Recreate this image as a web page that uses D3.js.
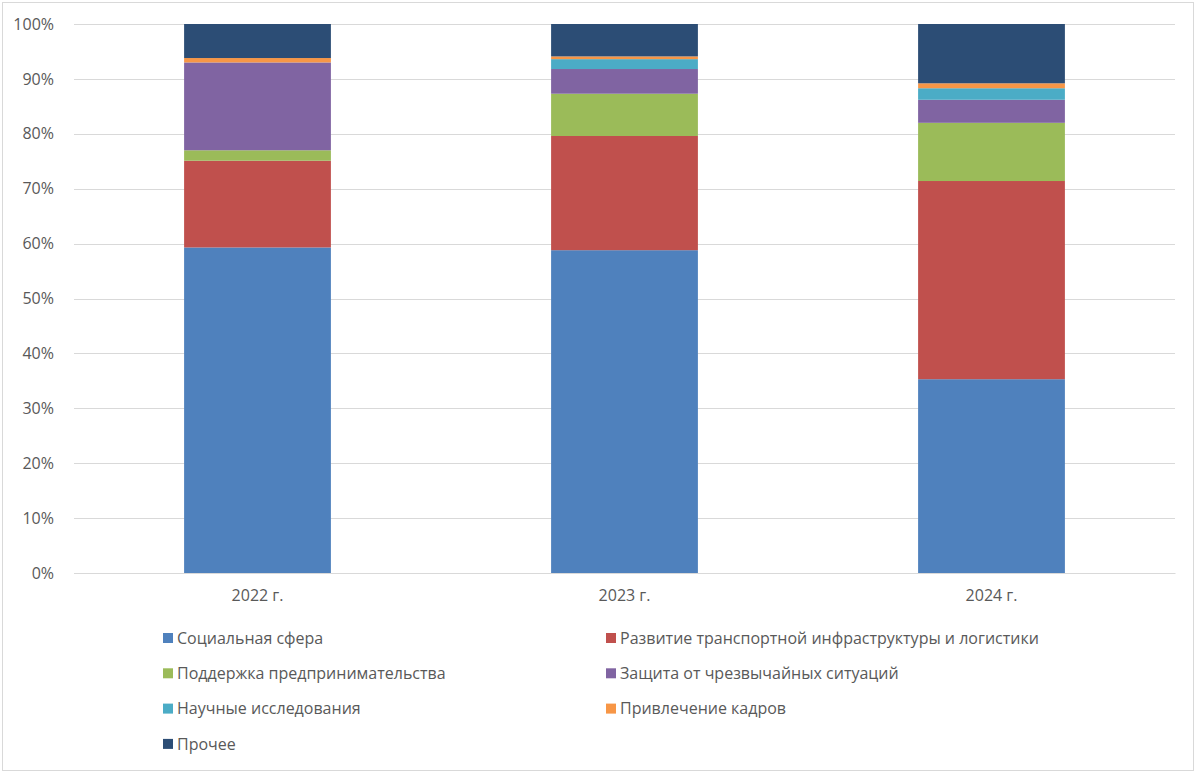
<!DOCTYPE html>
<html lang="ru">
<head>
<meta charset="utf-8">
<title>Структура расходов</title>
<script src="https://d3js.org/d3.v7.min.js"></script>
<style>
  body { margin: 0; background: #fff; }
  text { font-family: "Open Sans", sans-serif; fill: #595959; }
</style>
</head>
<body>
<div id="chart"></div>
<script>
// data, percent shares per year
var years = ['2022 г.', '2023 г.', '2024 г.'];
var seriesNames = ['Социальная сфера', 'Развитие транспортной инфраструктуры и логистики',
  'Поддержка предпринимательства', 'Защита от чрезвычайных ситуаций',
  'Научные исследования', 'Привлечение кадров', 'Прочее'];
var social    = [59.3, 58.8, 35.3];
var transport = [15.8, 20.8, 36.1];
var business  = [1.9, 7.7, 10.6];
var emergency = [16.0, 4.5, 4.2];
var science   = [0.0, 1.8, 2.1];
var staff     = [0.8, 0.5, 0.9];
var other     = [6.2, 5.9, 10.8];
var yTicks = [0, 10, 20, 30, 40, 50, 60, 70, 80, 90, 100];

var colors = ['#4F81BD', '#C0504D', '#9BBB59', '#8064A2', '#4BACC6', '#F79646', '#2C4D75'];
var allSeries = [social, transport, business, emergency, science, staff, other];

var W = 1197, H = 774;
var plot = {left: 74, right: 1175, top: 24, bottom: 573};

var svg = d3.select('#chart').append('svg')
  .attr('width', W).attr('height', H);

svg.append('rect')
  .attr('x', 2.5).attr('y', 2.5)
  .attr('width', W - 6).attr('height', H - 6)
  .attr('fill', '#fff').attr('stroke', '#d9d9d9');

var x = d3.scaleBand().domain(years)
  .range([plot.left, plot.right]).paddingInner(0.6).paddingOuter(0.3);
var y = d3.scaleLinear().domain([0, 100]).range([plot.bottom, plot.top]);

// gridlines
svg.append('g').selectAll('line')
  .data(yTicks).enter().append('line')
  .attr('x1', plot.left).attr('x2', plot.right)
  .attr('y1', d => Math.round(y(d)) + 0.5).attr('y2', d => Math.round(y(d)) + 0.5)
  .attr('stroke', '#d9d9d9').attr('stroke-width', 1);

// stacked bars
var table = years.map(function (yr, i) {
  var row = {year: yr};
  seriesNames.forEach(function (s, j) { row[s] = allSeries[j][i]; });
  return row;
});
var stack = d3.stack().keys(seriesNames)(table);

svg.append('g').selectAll('g')
  .data(stack).enter().append('g')
  .attr('fill', (d, i) => colors[i])
  .selectAll('rect')
  .data(d => d).enter().append('rect')
  .attr('x', d => x(d.data.year))
  .attr('width', x.bandwidth())
  .attr('y', d => y(d[1]))
  .attr('height', d => y(d[0]) - y(d[1]));

// axes
var yAxis = svg.append('g')
  .attr('transform', 'translate(' + (plot.left - 17) + ',0)')
  .call(d3.axisLeft(y).tickValues(yTicks).tickSize(0).tickFormat(d => d + '%'));
yAxis.select('.domain').remove();
yAxis.selectAll('text').attr('font-size', 16).attr('fill', '#595959')
  .attr('font-family', '"Open Sans", sans-serif');

var xAxis = svg.append('g')
  .attr('transform', 'translate(0,' + plot.bottom + ')')
  .call(d3.axisBottom(x).tickSize(0).tickPadding(17));
xAxis.select('.domain').attr('stroke', '#d9d9d9');
xAxis.selectAll('text').attr('font-size', 16).attr('fill', '#595959')
  .attr('font-family', '"Open Sans", sans-serif');

// legend, two columns
var legend = svg.append('g').selectAll('g')
  .data(seriesNames).enter().append('g')
  .attr('transform', function (d, i) {
    var col = i % 2, row = Math.floor(i / 2);
    return 'translate(' + (col === 0 ? 163 : 606) + ',' + (638 + row * 35.3) + ')';
  });
legend.append('rect')
  .attr('x', 0).attr('y', -5).attr('width', 10).attr('height', 10)
  .attr('fill', (d, i) => colors[i]);
legend.append('text')
  .attr('x', 14).attr('y', 0).attr('dy', '0.35em')
  .attr('font-size', 16)
  .text(d => d);
</script>
</body>
</html>
